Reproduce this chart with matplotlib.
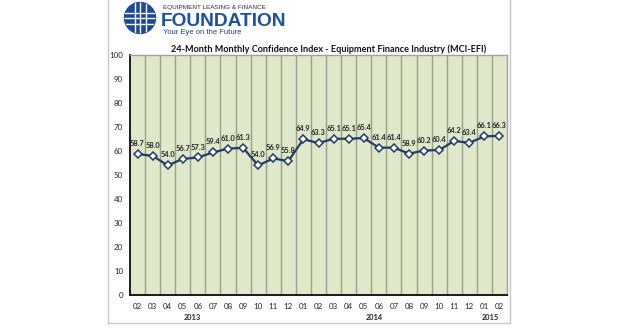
import matplotlib
matplotlib.use("Agg")
import matplotlib.pyplot as plt
from matplotlib.patches import Circle
from matplotlib.lines import Line2D

months = ["02", "03", "04", "05", "06", "07", "08", "09", "10", "11", "12",
          "01", "02", "03", "04", "05", "06", "07", "08", "09", "10", "11", "12",
          "01", "02"]
values = [58.7, 58.0, 54.0, 56.7, 57.3, 59.4, 61.0, 61.3, 54.0, 56.9, 55.8,
          64.9, 63.3, 65.1, 65.1, 65.4, 61.4, 61.4, 58.9, 60.2, 60.4, 64.2, 63.4,
          66.1, 66.3]
years = ["2013", "2014", "2015"]
year_pos = [3.6, 15.7, 23.4]
yticks = list(range(0, 101, 10))

W, H = 620, 328
plt.rcParams['font.family'] = ['Lato', 'DejaVu Sans']
fig = plt.figure(figsize=(W / 100, H / 100), dpi=100)
fig.patch.set_facecolor("white")

# frame
fc = "#c8c8c8"
fig.add_artist(Line2D([108 / W, 108 / W], [1, 1 - 323 / H], color=fc, lw=1))
fig.add_artist(Line2D([510 / W, 510 / W], [1, 1 - 323 / H], color=fc, lw=1))
fig.add_artist(Line2D([108 / W, 510 / W], [1 - 323 / H, 1 - 323 / H], color=fc, lw=1))

# main axes
ax = fig.add_axes([130 / W, 1 - 295 / H, (507 - 130) / W, (295 - 55) / H])
ax.set_facecolor("#dfe8c9")
n = len(values)
xs = list(range(n))
ax.set_xlim(-0.5, n - 0.5)
ax.set_ylim(0, 100)
for i in range(n - 1):
    ax.axvline(i + 0.5, color="#9a9f8c", lw=1.0, zorder=1)
ax.plot(xs, values, color="#1f3d64", lw=1.6, marker="D", ms=4.2,
        mfc="white", mec="#1f3d64", mew=1.1, zorder=3)
for x, v in zip(xs, values):
    ax.annotate(f"{v:.1f}", (x, v), xytext=(0, 5), textcoords="offset points",
                ha="center", va="bottom", fontsize=5.4, fontweight="bold",
                color="#222222", zorder=4)
ax.set_xticks(xs)
ax.set_xticklabels(months, fontsize=5.7, color="#222222")
ax.set_yticks(yticks)
ax.set_yticklabels([str(t) for t in yticks], fontsize=5.7, color="#222222")
ax.tick_params(length=0, pad=6)
ax.tick_params(axis="y", pad=5)
for s in ["top", "right"]:
    ax.spines[s].set_color("#a0a0a0")
    ax.spines[s].set_linewidth(1.0)
for s in ["left", "bottom"]:
    ax.spines[s].set_color("#1a1a1a")
    ax.spines[s].set_linewidth(1.4)
for yl, yp in zip(years, year_pos):
    ax.text(yp, -9.3, yl, ha="center", va="center", fontsize=5.3,
            fontweight="bold", color="#222222")

fig.text(329 / W, 1 - 49 / H,
         "24-Month Monthly Confidence Index - Equipment Finance Industry (MCI-EFI)",
         ha="center", va="center", fontsize=6.6, fontweight="bold", color="#111111")

# logo
lax = fig.add_axes([120 / W, 1 - 36 / H, 40 / W, 36 / H])
lax.set_xlim(0, 40)
lax.set_ylim(36, 0)
lax.set_aspect("equal")
lax.axis("off")
blue = "#1f4fa3"
globe = Circle((20, 18), 15.5, color="#1c4899")
lax.add_patch(globe)
for gx in [14.5, 20, 25.5]:
    l = Line2D([gx, gx], [0, 36], color="white", lw=1.0)
    l.set_clip_path(globe)
    lax.add_line(l)
for gy in [12.5, 18, 23.5]:
    l = Line2D([0, 40], [gy, gy], color="white", lw=1.0)
    l.set_clip_path(globe)
    lax.add_line(l)
fig.text(163 / W, 1 - 8 / H, "EQUIPMENT LEASING & FINANCE", ha="left", va="center",
         fontsize=4.6, color="#2a2a5a", family=["Liberation Sans", "DejaVu Sans"])
fig.text(161 / W, 1 - 21 / H, "FOUNDATION", ha="left", va="center",
         fontsize=13.8, fontweight="bold", color=blue,
         family=["Liberation Sans", "DejaVu Sans"])
fig.text(163 / W, 1 - 32.5 / H, "Your Eye on the Future", ha="left", va="center",
         fontsize=5.5, color="#1f3f8a", family=["Liberation Sans", "DejaVu Sans"])

fig.savefig("out.png", dpi=100, facecolor="white")
